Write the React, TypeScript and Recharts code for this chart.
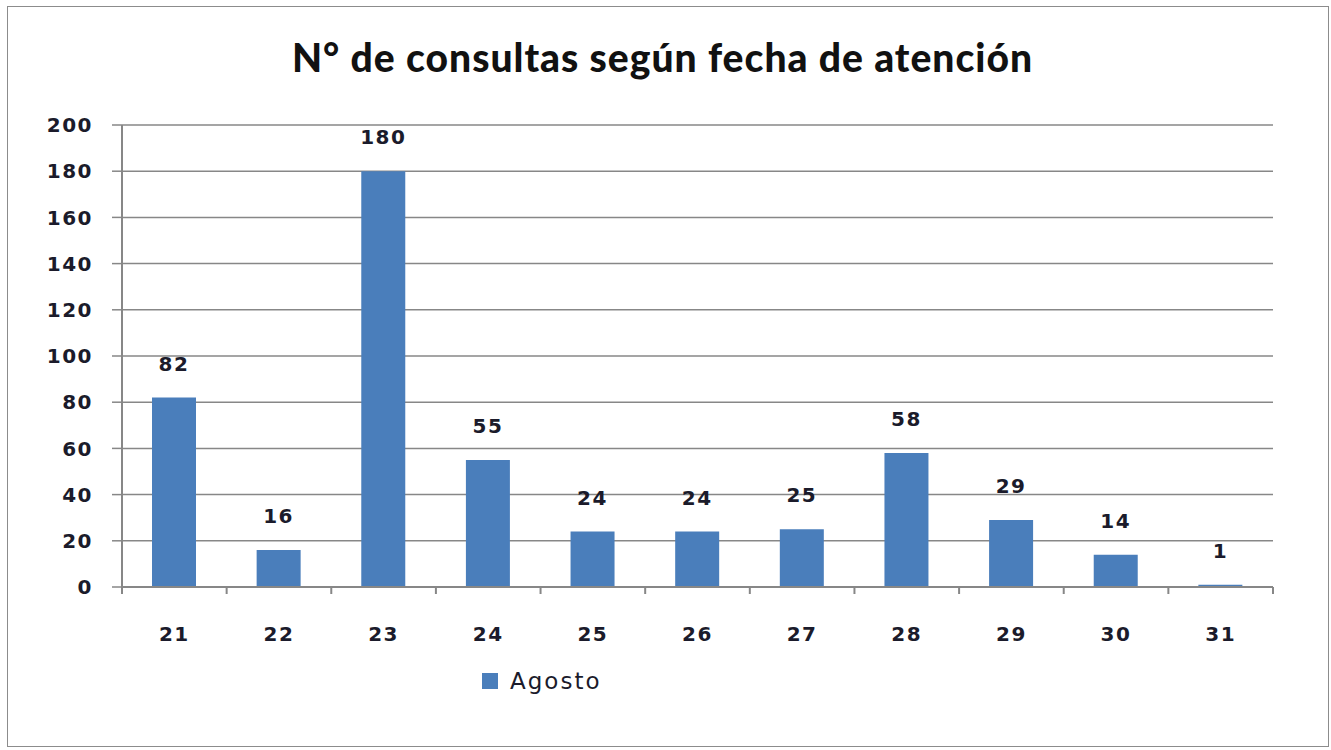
import React from "react";
import { BarChart, Bar, XAxis, YAxis, CartesianGrid, LabelList, Legend } from "recharts";

const days = ["21", "22", "23", "24", "25", "26", "27", "28", "29", "30", "31"];
const agosto = [82, 16, 180, 55, 24, 24, 25, 58, 29, 14, 1];
const yTicks = [0, 20, 40, 60, 80, 100, 120, 140, 160, 180, 200];
const seriesName = "Agosto";
const title = "N° de consultas según fecha de atención";

const data = days.map((d, i) => ({ day: d, value: agosto[i] }));

const W = 1331;
const H = 750;
const PLOT_LEFT = 122;
const PLOT_RIGHT = 1273;
const PLOT_TOP = 125;
const BAND = (PLOT_RIGHT - PLOT_LEFT) / days.length;

const TITLE_FONT = "Lato, 'Open Sans', sans-serif";
const NUM_FONT = "'DejaVu Sans', sans-serif";
const TEXT = "#1b1b2b";
const GRID = "#878787";
const BLUE = "#4a7ebb";

const XTick = (props: any) => {
  const { x, y, payload, index } = props;
  return (
    <g>
      {index === 0 && (
        <line x1={x - BAND / 2} x2={x - BAND / 2} y1={y - 8} y2={y - 1} stroke={GRID} strokeWidth={2} />
      )}
      <line x1={x + BAND / 2} x2={x + BAND / 2} y1={y - 8} y2={y - 1} stroke={GRID} strokeWidth={2} />
      <text x={x} y={y + 39} textAnchor="middle" dominantBaseline="central" fontFamily={NUM_FONT} fontWeight={700} fontSize={20} letterSpacing={1.5} fill={TEXT}>
        {payload.value}
      </text>
    </g>
  );
};

const LegendContent = () => (
  <div style={{ display: "flex", alignItems: "center", fontFamily: NUM_FONT, fontSize: 23, letterSpacing: 2, color: TEXT }}>
    <span style={{ display: "inline-block", width: 16, height: 16, background: BLUE, marginRight: 12 }} />
    <span>{seriesName}</span>
  </div>
);

export default function App() {
  return (
    <div style={{ position: "absolute", left: 0, top: 0, width: W, height: H, background: "#fff" }}>
      <div style={{ position: "absolute", left: 7, top: 6, width: 1322, height: 741, border: "1.5px solid #8c8c8c", boxSizing: "border-box" }} />
      <div style={{ position: "absolute", left: 0, top: 32, width: 1325, textAlign: "center", fontFamily: TITLE_FONT, fontWeight: 900, fontSize: 39, letterSpacing: 1, color: "#111", lineHeight: "50px" }}>
        {title}
      </div>
      <BarChart
        width={W}
        height={H}
        data={data}
        margin={{ top: PLOT_TOP, right: W - PLOT_RIGHT, left: 0, bottom: 77 }}
        barSize={44}
      >
        <CartesianGrid vertical={false} stroke={GRID} strokeWidth={1.5} />
        <XAxis
          dataKey="day"
          axisLine={{ stroke: GRID, strokeWidth: 2 }}
          tickLine={false}
          tick={<XTick />}
          height={60}
          interval={0}
        />
        <YAxis
          domain={[0, 200]}
          ticks={yTicks}
          width={PLOT_LEFT}
          axisLine={{ stroke: GRID, strokeWidth: 2 }}
          tickLine={{ stroke: GRID, strokeWidth: 1.5 }}
          tickSize={10}
          tickMargin={19}
          tick={{ fontFamily: NUM_FONT, fontWeight: 700, fontSize: 20, letterSpacing: 1.5, fill: TEXT }}
          interval={0}
        />
        <Bar dataKey="value" name={seriesName} fill={BLUE} isAnimationActive={false}>
          <LabelList dataKey="value" position="top" offset={27} fontFamily={NUM_FONT} fontWeight={700} fontSize={20} letterSpacing={1.5} fill={TEXT} />
        </Bar>
        <Legend content={<LegendContent />} wrapperStyle={{ position: "absolute", left: 482, top: 668, width: 200 }} />
      </BarChart>
    </div>
  );
}
